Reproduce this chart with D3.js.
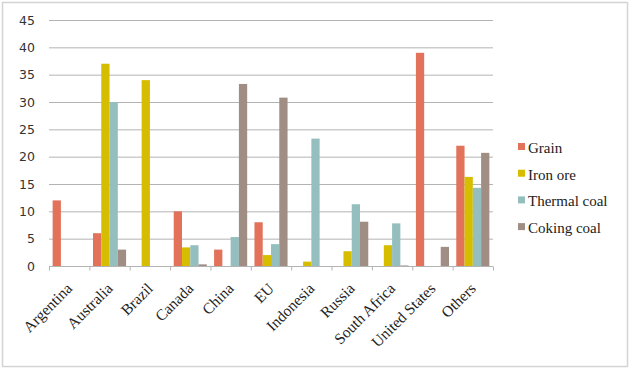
<!DOCTYPE html>
<html>
<head>
<meta charset="utf-8">
<script src="https://cdn.jsdelivr.net/npm/d3@7"></script>
<style>
  html, body { margin: 0; padding: 0; background: #fff; overflow: hidden; }
  svg { display: block; }
</style>
</head>
<body>
<svg width="631" height="370"></svg>
<script>
const countries = ['Argentina', 'Australia', 'Brazil', 'Canada', 'China', 'EU',
    'Indonesia', 'Russia', 'South Africa', 'United States', 'Others'];
const seriesNames = ['Grain', 'Iron ore', 'Thermal coal', 'Coking coal'];
const grain       = [12, 6, 0, 10, 3, 8, 0, 0, 0, 39, 22];
const ironOre     = [0, 37, 34, 3.4, 0, 2, 0.8, 2.7, 3.8, 0, 16.3];
const thermalCoal = [0, 30, 0, 3.8, 5.3, 4, 23.3, 11.3, 7.8, 0, 14.3];
const cokingCoal  = [0, 3, 0, 0.3, 33.3, 30.8, 0, 8.1, 0.1, 3.5, 20.7];
const yTicks = [0, 5, 10, 15, 20, 25, 30, 35, 40, 45];
const colors = ['#e2735a', '#d6bd00', '#95bfbe', '#a08e85'];

const series = [grain, ironOre, thermalCoal, cokingCoal];
const data = countries.map((c, i) => ({
    country: c,
    values: series.map((s, j) => ({ key: seriesNames[j], value: s[i] })),
}));

const serif = "'Liberation Serif', 'DejaVu Serif', serif";

const svg = d3.select('svg');
const width = +svg.attr('width');
const height = +svg.attr('height');

const margin = { top: 20, right: 138, bottom: 104, left: 49 };
const innerWidth = width - margin.left - margin.right;
const innerHeight = height - margin.top - margin.bottom;

// SCALES
const xScale = d3.scaleBand()
    .domain(countries)
    .range([0, innerWidth])
    .paddingInner(0.18)
    .paddingOuter(0.09);
const subScale = d3.scaleBand()
    .domain(seriesNames)
    .range([0, xScale.bandwidth()]);
const yScale = d3.scaleLinear()
    .domain([0, 45])
    .range([innerHeight, 0]);

const g = svg.append('g')
    .attr('transform', `translate(${margin.left}, ${margin.top})`);

// gridlines
g.append('g').selectAll('line')
    .data(yTicks.slice(1))
    .enter().append('line')
        .attr('x1', 0).attr('x2', innerWidth)
        .attr('y1', d => yScale(d) + 0.5).attr('y2', d => yScale(d) + 0.5)
        .attr('stroke', '#b3b3b3');

// y axis
const yAxis = d3.axisLeft(yScale).tickValues(yTicks).tickSize(0).tickPadding(14);
const yG = g.append('g').call(yAxis);
yG.select('.domain').remove();
yG.selectAll('text')
    .attr('font-family', "'DejaVu Sans', Verdana, sans-serif")
    .attr('font-size', 12.5)
    .attr('fill', '#333');

// bars
const groups = g.selectAll('.group')
    .data(data)
    .enter().append('g')
        .attr('transform', d => `translate(${xScale(d.country)}, 0)`);
groups.selectAll('rect')
    .data(d => d.values)
    .enter().append('rect')
        .attr('x', d => subScale(d.key))
        .attr('width', subScale.bandwidth())
        .attr('y', d => yScale(d.value))
        .attr('height', d => innerHeight - yScale(d.value))
        .attr('fill', (d, i) => colors[i]);

// x axis line and ticks
const step = innerWidth / countries.length;
const xAxisG = g.append('g').attr('transform', `translate(0, ${innerHeight + 0.5})`);
xAxisG.append('line')
    .attr('x1', 0).attr('x2', innerWidth)
    .attr('stroke', '#b3b3b3');
xAxisG.selectAll('.tick')
    .data(d3.range(countries.length + 1))
    .enter().append('line')
        .attr('x1', d => d * step + 0.5).attr('x2', d => d * step + 0.5)
        .attr('y1', 0).attr('y2', 4)
        .attr('stroke', '#b3b3b3');

// x labels
xAxisG.selectAll('text')
    .data(countries)
    .enter().append('text')
        .attr('transform', d => `translate(${xScale(d) + xScale.bandwidth() / 2 + 4}, 23) rotate(-45)`)
        .attr('text-anchor', 'end')
        .attr('font-family', serif)
        .attr('font-size', 15.5)
        .attr('fill', '#222')
        .text(d => d);

// legend
const legend = svg.append('g').attr('transform', 'translate(518, 148)');
const items = legend.selectAll('g')
    .data(seriesNames)
    .enter().append('g')
        .attr('transform', (d, i) => `translate(0, ${i * 26.7})`);
items.append('rect')
    .attr('x', 0).attr('y', -5)
    .attr('width', 7).attr('height', 7)
    .attr('fill', (d, i) => colors[i]);
items.append('text')
    .attr('x', 10).attr('y', 5)
    .attr('font-family', serif)
    .attr('font-size', 15)
    .attr('fill', '#222')
    .text(d => d);

// outer frame
svg.append('rect')
    .attr('x', 2.5).attr('y', 2.5)
    .attr('width', width - 6).attr('height', height - 6)
    .attr('fill', 'none')
    .attr('stroke', '#d4d4d4')
    .attr('stroke-width', 1.5);
</script>
</body>
</html>
